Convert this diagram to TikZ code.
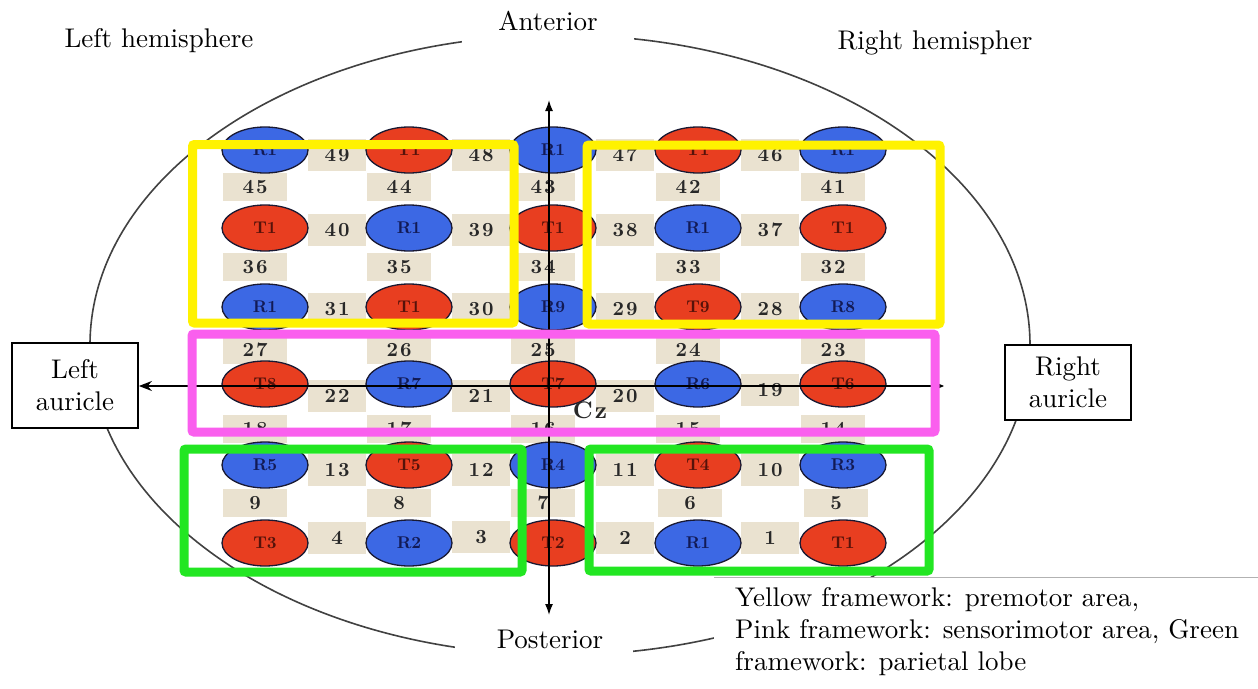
\documentclass[tikz,border=0pt]{standalone}
\usepackage{fontspec}
\setmainfont{lmroman10-regular.otf}[BoldFont=lmroman10-bold.otf]
\usetikzlibrary{shapes.geometric,arrows.meta}
\definecolor{ered}{RGB}{232,62,32}
\definecolor{eblue}{RGB}{60,104,228}
\definecolor{beige}{RGB}{234,226,208}
\definecolor{fyellow}{RGB}{255,242,0}
\definecolor{fpink}{RGB}{250,95,238}
\definecolor{fgreen}{RGB}{34,230,34}
\definecolor{numcol}{RGB}{40,40,40}
\definecolor{headline}{RGB}{65,65,65}
\begin{document}
\begin{tikzpicture}[x=1pt,y=-1pt,
  lbl/.style={font=\fontsize{27}{32}\selectfont, align=center, inner sep=0pt},
  elec/.style={ellipse, draw={rgb,255:red,25;green,25;blue,50}, line width=1.3pt,
    minimum width=86pt, minimum height=46pt, inner sep=0pt,
    font=\fontsize{17}{17}\selectfont\bfseries},
  tel/.style={elec, fill=ered, text={rgb,255:red,85;green,18;blue,10}},
  rel/.style={elec, fill=eblue, text={rgb,255:red,18;green,26;blue,85}},
  numh/.style={fill=beige, minimum width=58pt, minimum height=32pt, inner sep=0pt,
    font=\fontsize{20}{20}\selectfont\bfseries\addfontfeature{LetterSpace=10}, text=numcol},
  numv/.style={numh, minimum width=64pt, minimum height=28pt},
  frame/.style={line width=9pt, rounded corners=2pt},
  axis/.style={line width=1.5pt, black},
  boxlbl/.style={lbl, draw, line width=1.8pt, fill=white, minimum width=126pt}
]
\useasboundingbox[fill=white] (0,0) rectangle (1258,688);

% head outline
\draw[headline, line width=1.6pt] (560,345) ellipse [x radius=470pt, y radius=310pt];

% number patches (horizontal, between columns)
\foreach \n/\x/\y in {49/337/155,48/481/155,47/625/155,46/770/155,
                      40/337/230,39/481/230,38/625/230,37/770/230,
                      31/337/309,30/481/309,29/625/309,28/770/309,
                      22/337/396,21/481/396,20/625/396,19/770/390,
                      13/337/470,12/481/470,11/625/470,10/770/470,
                      4/337/538,3/481/537,2/625/538,1/770/538}
  \node[numh] (n\n) at (\x,\y) {\n};
% number patches (vertical, between rows)
\foreach \n/\x/\y in {45/255/187,44/399/187,43/543/187,42/688/187,41/833/187,
                      36/255/267,35/399/267,34/543/267,33/688/267,32/833/267,
                      27/255/350,26/399/350,25/543/350,24/688/350,23/833/350,
                      18/255/429,17/399/429,16/543/429,15/688/429,14/833/429,
                      9/255/503,8/399/503,7/543/503,6/690/503,5/836/503}
  \node[numv] (n\n) at (\x,\y) {\n};

% electrodes
\foreach \nm/\s/\x/\y/\t in {
  a1/rel/265/150/R1, a2/tel/409/150/T1, a3/rel/553/150/R1, a4/tel/698/150/T1, a5/rel/843/150/R1,
  b1/tel/265/228/T1, b2/rel/409/228/R1, b3/tel/553/228/T1, b4/rel/698/228/R1, b5/tel/843/228/T1,
  c1/rel/265/307/R1, c2/tel/409/307/T1, c3/rel/553/307/R9, c4/tel/698/307/T9, c5/rel/843/307/R8,
  d1/tel/265/384/T8, d2/rel/409/384/R7, d3/tel/553/384/T7, d4/rel/698/384/R6, d5/tel/843/384/T6,
  e1/rel/265/465/R5, e2/tel/409/465/T5, e3/rel/553/465/R4, e4/tel/698/465/T4, e5/rel/843/465/R3,
  f1/tel/265/543/T3, f2/rel/409/543/R2, f3/tel/553/543/T2, f4/rel/698/543/R1, f5/tel/843/543/T1}
  \node[\s] (\nm) at (\x,\y) {\t};

% label boxes covering the head outline
\fill[white] (462,0) rectangle (634,62);
\fill[white] (455,617) rectangle (633,688);
\fill[white] (714,577) rectangle (1258,688);
\draw[gray!60, line width=0.8pt] (714,577) -- (1258,577);

\node[lbl] (ant) at (548,21) {Anterior};
\node[lbl] (post) at (550,639) {Posterior};
\node[lbl] (lh) at (159,41) {Left hemisphere};
\node[lbl] (rh) at (935,43) {Right hemispher};
\node[boxlbl, minimum height=85pt] (lau) at (75,385.5) {Left\\auricle};
\node[boxlbl, minimum height=75pt] (rau) at (1068,382.5) {Right\\auricle};
\node[lbl, align=left, anchor=north west] (legend) at (735,587)
  {Yellow framework: premotor area,\\Pink framework: sensorimotor area, Green\\framework: parietal lobe};

% axes
\coordinate (vtop) at (549,100);
\coordinate (vbot) at (549,615);
\coordinate (hright) at (944,386);
\draw[axis, {Latex[length=11pt,width=8pt]}-{Latex[length=11pt,width=8pt]}] (vbot) -- (vtop);
\draw[axis, {Stealth[length=7pt,width=6pt]}-{Stealth[length=13pt,width=10pt]}] (hright) -- (lau.east |- hright);

\node[font=\fontsize{24}{24}\selectfont\bfseries, text=numcol] (cz) at (590,410) {C\kern2pt z};

% frameworks
\draw[frame, fyellow] (192.5,144.5) rectangle (514,323);
\draw[frame, fyellow] (587,145) rectangle (940,324);
\draw[frame, fpink] (192,334) rectangle (935,432);
\draw[frame, fgreen] (184,449) rectangle (522,572);
\draw[frame, fgreen] (589,449) rectangle (929,571);
\end{tikzpicture}
\end{document}
